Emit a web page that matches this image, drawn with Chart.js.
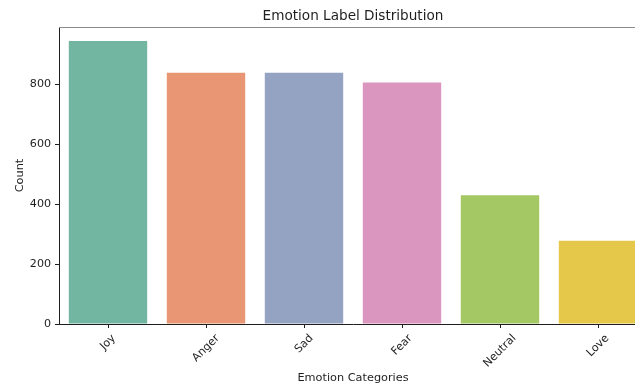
<!DOCTYPE html>
<html>
<head>
<meta charset="utf-8">
<script src="https://cdn.jsdelivr.net/npm/chart.js@4.4.1/dist/chart.umd.min.js"></script>
<style>
  html, body { margin: 0; padding: 0; background: #fff; overflow: hidden; width: 635px; height: 387px; }
  canvas { display: block; }
</style>
</head>
<body>
<canvas id="c" width="660" height="387" style="width:660px;height:387px"></canvas>
<script>
const categories = ["Joy", "Anger", "Sad", "Fear", "Neutral", "Love"];
const counts = [944, 838, 838, 806, 430, 278];
const barColors = ["#72b6a1", "#e99675", "#95a3c3", "#db96c0", "#a4c864", "#e5c84a"];
const yTicks = [0, 200, 400, 600, 800];
const yMax = 991;
const chartTitle = "Emotion Label Distribution";
const xTitle = "Emotion Categories";
const yTitle = "Count";

const FONT = "'DejaVu Sans', sans-serif";
const TXT = "#1e1e1e";

const decor = {
  id: 'decor',
  afterDraw(chart) {
    const ctx = chart.ctx;
    const a = chart.chartArea;
    ctx.save();
    // top spine
    ctx.strokeStyle = "#8a8a8a";
    ctx.lineWidth = 1;
    ctx.beginPath();
    ctx.moveTo(a.left, a.top + 0.5);
    ctx.lineTo(a.right, a.top + 0.5);
    ctx.stroke();
    // title
    ctx.fillStyle = TXT;
    ctx.font = "13.6px " + FONT;
    ctx.textAlign = "center";
    ctx.textBaseline = "alphabetic";
    ctx.fillText(chartTitle, (a.left + a.right) / 2, 20);
    // rotated x tick labels, centered on tick (matplotlib style)
    const xs = chart.scales.x;
    ctx.font = "11.1px " + FONT;
    const h = 12.9;
    const y0 = a.bottom + 8;
    categories.forEach((lab, i) => {
      const x = xs.getPixelForTick(i);
      const w = ctx.measureText(lab).width;
      const half = (w + h) * Math.SQRT1_2 / 2;
      ctx.save();
      ctx.translate(x, y0 + half);
      ctx.rotate(-Math.PI / 4);
      ctx.textAlign = "center";
      ctx.textBaseline = "middle";
      ctx.fillText(lab, 0, 0);
      ctx.restore();
    });
    ctx.restore();
  }
};

new Chart(document.getElementById('c'), {
  type: 'bar',
  data: {
    labels: categories,
    datasets: [{
      data: counts,
      backgroundColor: barColors,
      borderWidth: 0,
      categoryPercentage: 1.0,
      barPercentage: 0.8
    }]
  },
  options: {
    responsive: false,
    animation: false,
    devicePixelRatio: 1,
    layout: { padding: { left: 0, top: 27, right: 13, bottom: 0 } },
    plugins: { legend: { display: false }, tooltip: { enabled: false }, title: { display: false } },
    scales: {
      x: {
        grid: { display: true, drawOnChartArea: false, drawTicks: true, tickLength: 4, offset: false, color: TXT, tickWidth: 1 },
        border: { display: true, color: TXT, width: 1 },
        ticks: { display: false },
        title: { display: true, text: xTitle, color: TXT, font: { family: FONT, size: 11.3 }, padding: { top: 0, bottom: 2.4 } },
        afterFit(s) { s.height = 63; }
      },
      y: {
        min: 0,
        max: yMax,
        grid: { display: true, drawOnChartArea: false, drawTicks: true, tickLength: 4, color: TXT, tickWidth: 1 },
        border: { display: true, color: TXT, width: 1 },
        ticks: { stepSize: 200, padding: 4, color: TXT, font: { family: FONT, size: 11.1 } },
        afterBuildTicks(s) { s.ticks = yTicks.map(v => ({ value: v })); },
        title: { display: true, text: yTitle, color: TXT, font: { family: FONT, size: 11.3 }, padding: { top: 13, bottom: 0 } },
        afterFit(s) { s.width = 59; }
      }
    }
  },
  plugins: [decor]
});
</script>
</body>
</html>
